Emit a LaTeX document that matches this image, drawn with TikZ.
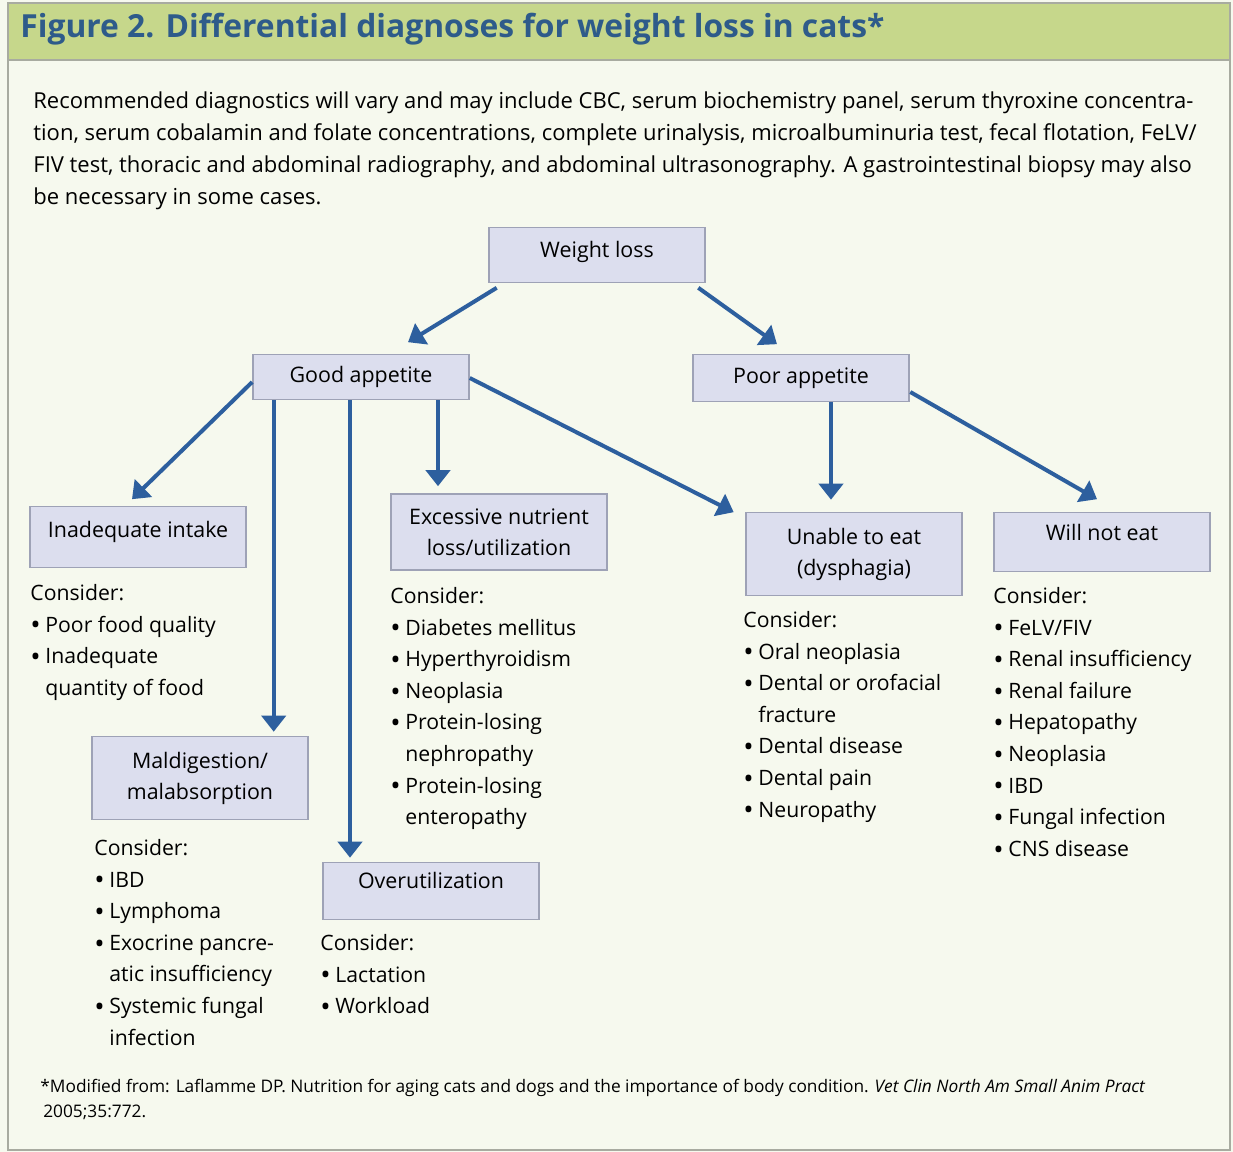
\documentclass[tikz,border=0pt]{standalone}
\usepackage{fontspec}
\setmainfont{Open Sans}
\usetikzlibrary{arrows.meta,calc}

\definecolor{pagebg}{HTML}{F6F9EE}
\definecolor{barfill}{HTML}{C6D78B}
\definecolor{titleblue}{HTML}{2E5B8A}
\definecolor{boxfill}{HTML}{DCDEEE}
\definecolor{boxline}{HTML}{9EA2B6}
\definecolor{arrowblue}{HTML}{2D5F9E}
\definecolor{frameline}{HTML}{A8ABA0}

\newcommand{\bul}{\makebox[7.5pt][l]{\raisebox{-0.25ex}{\scalebox{1.3}{\textbullet}}}}
\newcommand{\ind}{\hspace*{7.5pt}}

\tikzset{
  diagbox/.style={draw=boxline, line width=0.8pt, fill=boxfill, align=center,
    minimum width=108pt, inner sep=2pt, font=\fontsize{10.7}{15.5}\selectfont},
  lst/.style={anchor=north west, align=left, inner sep=0pt,
    font=\fontsize{10.6}{15.8}\selectfont},
  arr/.style={draw=arrowblue, line width=2pt,
    -{Triangle[length=8pt,width=12pt]}}
}

\begin{document}
\begin{tikzpicture}[x=0.5pt,y=-0.5pt]
\useasboundingbox (0,0) rectangle (1233,1152);
% frame and title bar
\fill[pagebg] (0,0) rectangle (1233,1152);
\draw[frameline,line width=0.6pt] (8,3) rectangle (1230,1150);
\draw[frameline,line width=0.6pt,fill=barfill] (8,3) rectangle (1230,60);
\node[anchor=west,inner sep=0pt,text=titleblue,font=\bfseries\fontsize{15.9}{17}\selectfont]
  (title) at (20,29) {Figure 2. Differential diagnoses for weight loss in cats*};

% intro text
\node[anchor=north west,align=left,inner sep=0pt,font=\fontsize{11}{16}\selectfont] (intro) at (33,91)
  {Recommended diagnostics will vary and may include CBC, serum biochemistry panel, serum thyroxine concentra-\\
   tion, serum cobalamin and folate concentrations, complete urinalysis, microalbuminuria test, fecal flotation, FeLV/\\
   FIV test, thoracic and abdominal radiography, and abdominal ultrasonography. A gastrointestinal biopsy may also\\
   be necessary in some cases.};

% boxes
\node[diagbox,minimum height=27.5pt,text depth=5.5pt] (wl) at (597,255) {Weight loss};
\node[diagbox,minimum height=22.5pt] (good) at (361,377) {Good appetite};
\node[diagbox,minimum height=23.5pt] (poor) at (801,378) {Poor appetite};
\node[diagbox,minimum height=30.5pt,text depth=7.5pt] (inad) at (138,537) {Inadequate intake};
\node[diagbox,minimum height=38pt] (exc) at (499,532) {Excessive nutrient\\loss/utilization};
\node[diagbox,minimum height=41.5pt] (unable) at (854,554) {Unable to eat\\(dysphagia)};
\node[diagbox,minimum height=29.5pt,text depth=10pt] (willnot) at (1102,542) {Will not eat};
\node[diagbox,minimum height=41.5pt] (mal) at (200,778) {Maldigestion/\\malabsorption};
\node[diagbox,minimum height=28.5pt,text depth=10.5pt] (over) at (431,891) {Overutilization};

% lists
\node[lst] (inadlist) at (30,584) {Consider:\\
  \bul Poor food quality\\
  \bul Inadequate\\
  \ind quantity of food};
\node[lst] (exclist) at (390,587) {Consider:\\
  \bul Diabetes mellitus\\
  \bul Hyperthyroidism\\
  \bul Neoplasia\\
  \bul Protein-losing\\
  \ind nephropathy\\
  \bul Protein-losing\\
  \ind enteropathy};
\node[lst] (mallist) at (94,839) {Consider:\\
  \bul IBD\\
  \bul Lymphoma\\
  \bul Exocrine pancre-\\
  \ind atic insufficiency\\
  \bul Systemic fungal\\
  \ind infection};
\node[lst] (overlist) at (320,934) {Consider:\\
  \bul Lactation\\
  \bul Workload};
\node[lst] (unablelist) at (743,611) {Consider:\\
  \bul Oral neoplasia\\
  \bul Dental or orofacial\\
  \ind fracture\\
  \bul Dental disease\\
  \bul Dental pain\\
  \bul Neuropathy};
\node[lst] (willnotlist) at (993,587) {Consider:\\
  \bul FeLV/FIV\\
  \bul Renal insufficiency\\
  \bul Renal failure\\
  \bul Hepatopathy\\
  \bul Neoplasia\\
  \bul IBD\\
  \bul Fungal infection\\
  \bul CNS disease};

% arrows
\draw[arr] ($(wl.south west)+(8.5,4.5)$) -- ($(good.north)+(47,-11.5)$);
\draw[arr] ($(wl.south east)+(-7.5,4.5)$) -- ($(poor.north)+(-24,-9.5)$);
\draw[arr] ($(good.west)+(0,5)$) -- ($(inad.north)+(-6,-6.5)$);
\draw[arr,shorten >=2pt] ($(good.south west)+(21.5,0)$) coordinate (gm) -- (gm |- mal.north);
\draw[arr,shorten >=2pt] ($(good.south)+(-11,0)$) coordinate (go) -- (go |- over.north);
\draw[arr,shorten >=3.5pt] ($(good.south)+(77,0)$) coordinate (ge) -- (ge |- exc.north);
\draw[arr] ($(good.east)+(0,1)$) -- ($(unable.north west)+(-11.5,0.5)$);
\draw[arr,shorten >=6pt] ($(poor.south)+(30,0)$) coordinate (pu) -- (pu |- unable.north);
\draw[arr] ($(poor.east)+(0.5,14)$) -- ($(willnot.north)+(-5,-12.5)$);

% footnote
\node[anchor=north west,align=left,inner sep=0pt,font=\fontsize{8.65}{12.5}\selectfont] (foot) at (40,1079)
  {*Modified from: Laflamme DP. Nutrition for aging cats and dogs and the importance of body condition. \textit{Vet Clin North Am Small Anim Pract}\\
   \,2005;35:772.};
\end{tikzpicture}
\end{document}
